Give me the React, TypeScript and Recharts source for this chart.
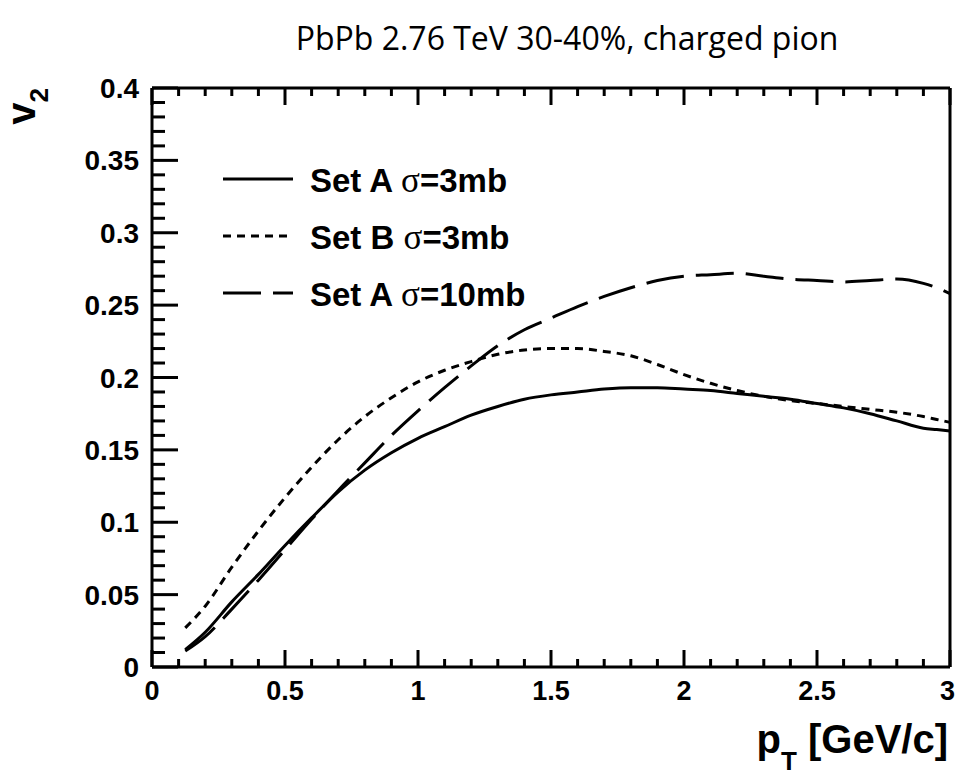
import React from 'react';
import { LineChart, Line, XAxis, YAxis } from 'recharts';

const W = 956;
const H = 777;

// transverse momentum (GeV/c)
const pt = [0.125, 0.2, 0.3, 0.4, 0.5, 0.6, 0.7, 0.8, 0.9, 1.0, 1.1, 1.2, 1.3, 1.4, 1.5, 1.6, 1.7, 1.8, 1.9, 2.0, 2.1, 2.2, 2.3, 2.4, 2.5, 2.6, 2.7, 2.8, 2.9, 2.95, 3.0];
// Set A sigma=3mb
const setA3 = [0.012, 0.024, 0.045, 0.064, 0.084, 0.103, 0.121, 0.136, 0.148, 0.158, 0.166, 0.174, 0.180, 0.185, 0.188, 0.190, 0.192, 0.193, 0.193, 0.192, 0.191, 0.189, 0.187, 0.185, 0.182, 0.179, 0.175, 0.170, 0.165, 0.164, 0.163];
// Set B sigma=3mb
const setB3 = [0.027, 0.042, 0.069, 0.094, 0.117, 0.138, 0.157, 0.173, 0.186, 0.197, 0.205, 0.211, 0.216, 0.219, 0.220, 0.220, 0.218, 0.215, 0.209, 0.202, 0.196, 0.191, 0.187, 0.184, 0.182, 0.180, 0.178, 0.176, 0.173, 0.171, 0.169];
// Set A sigma=10mb
const setA10 = [0.011, 0.021, 0.040, 0.060, 0.081, 0.102, 0.122, 0.141, 0.160, 0.177, 0.193, 0.208, 0.222, 0.233, 0.241, 0.249, 0.256, 0.262, 0.267, 0.270, 0.271, 0.272, 0.270, 0.268, 0.267, 0.266, 0.267, 0.268, 0.265, 0.262, 0.258];

const xMajorTicks = [0, 0.5, 1, 1.5, 2, 2.5, 3];
const xTickLabels = ['0', '0.5', '1', '1.5', '2', '2.5', '3'];
const xAllTicks = [0, 0.1, 0.2, 0.3, 0.4, 0.5, 0.6, 0.7, 0.8, 0.9, 1, 1.1, 1.2, 1.3, 1.4, 1.5, 1.6, 1.7, 1.8, 1.9, 2, 2.1, 2.2, 2.3, 2.4, 2.5, 2.6, 2.7, 2.8, 2.9, 3];
const yMajorTicks = [0, 0.05, 0.1, 0.15, 0.2, 0.25, 0.3, 0.35, 0.4];
const yTickLabels = ['0', '0.05', '0.1', '0.15', '0.2', '0.25', '0.3', '0.35', '0.4'];
const yAllTicks = [0, 0.01, 0.02, 0.03, 0.04, 0.05, 0.06, 0.07, 0.08, 0.09, 0.1, 0.11, 0.12, 0.13, 0.14, 0.15, 0.16, 0.17, 0.18, 0.19, 0.2, 0.21, 0.22, 0.23, 0.24, 0.25, 0.26, 0.27, 0.28, 0.29, 0.3, 0.31, 0.32, 0.33, 0.34, 0.35, 0.36, 0.37, 0.38, 0.39, 0.4];

const seriesNames = ['Set A', 'Set B', 'Set A'];
const seriesSigma = ['=3mb', '=3mb', '=10mb'];
const seriesDash = ['', '8 6', '38 12'];

const data = pt.map((x, i) => ({ pt: x, a3: setA3[i], b3: setB3[i], a10: setA10[i] }));

const FONT = '"Liberation Sans", Arial, Helvetica, sans-serif';

const xIndex = (v: number) => xMajorTicks.findIndex((m) => Math.abs(m - v) < 1e-6);
const yIndex = (v: number) => yMajorTicks.findIndex((m) => Math.abs(m - v) < 1e-6);

const XTickBottom = (props: any) => {
  const { x, y, payload } = props;
  const idx = xIndex(payload.value);
  const major = idx >= 0;
  const last = idx === xMajorTicks.length - 1;
  return (
    <g>
      <line x1={x} x2={x} y1={y} y2={y - (major ? 17 : 8)} stroke="#000" strokeWidth={3} />
      {major && (
        <text x={last ? W - 1 : x} y={y + 33} textAnchor={last ? 'end' : 'middle'} fontSize={27} fontWeight="bold" fontFamily={FONT} fill="#000">
          {xTickLabels[idx]}
        </text>
      )}
    </g>
  );
};

const XTickTop = (props: any) => {
  const { x, y, payload } = props;
  const major = xIndex(payload.value) >= 0;
  return <line x1={x} x2={x} y1={y} y2={y + (major ? 17 : 8)} stroke="#000" strokeWidth={3} />;
};

const YTickLeft = (props: any) => {
  const { x, y, payload } = props;
  const idx = yIndex(payload.value);
  const major = idx >= 0;
  return (
    <g>
      <line x1={x} x2={x + (major ? 26 : 13)} y1={y} y2={y} stroke="#000" strokeWidth={3} />
      {major && (
        <text x={x - 13} y={y + 10} textAnchor="end" fontSize={28} fontWeight="bold" fontFamily={FONT} fill="#000">
          {yTickLabels[idx]}
        </text>
      )}
    </g>
  );
};

const YTickRight = (props: any) => {
  const { x, y, payload } = props;
  const major = yIndex(payload.value) >= 0;
  return <line x1={x} x2={x - (major ? 25 : 12)} y1={y} y2={y} stroke="#000" strokeWidth={3} />;
};

const axisLine = { stroke: '#000', strokeWidth: 3 };

export default function App() {
  return (
    <div style={{ position: 'absolute', left: 0, top: 0, width: W, height: H, background: '#fff' }}>
      <LineChart width={W} height={H} data={data} margin={{ top: 87, right: 5, bottom: 109, left: 151 }}>
        <XAxis xAxisId="b" dataKey="pt" type="number" domain={[0, 3]} ticks={xAllTicks} interval={0}
          orientation="bottom" height={1} tickSize={0} tickMargin={0} tickLine={false} axisLine={axisLine} tick={XTickBottom} />
        <XAxis xAxisId="t" dataKey="pt" type="number" domain={[0, 3]} ticks={xAllTicks} interval={0}
          orientation="top" height={1} tickSize={0} tickMargin={0} tickLine={false} axisLine={axisLine} tick={XTickTop} />
        <YAxis yAxisId="l" type="number" domain={[0, 0.4]} ticks={yAllTicks} interval={0}
          orientation="left" width={1} tickSize={0} tickMargin={0} tickLine={false} axisLine={axisLine} tick={YTickLeft} />
        <YAxis yAxisId="r" type="number" domain={[0, 0.4]} ticks={yAllTicks} interval={0}
          orientation="right" width={1} tickSize={0} tickMargin={0} tickLine={false} axisLine={axisLine} tick={YTickRight} />
        <Line xAxisId="b" yAxisId="l" type="monotone" dataKey="a3" stroke="#000" strokeWidth={3} dot={false} isAnimationActive={false} />
        <Line xAxisId="b" yAxisId="l" type="monotone" dataKey="b3" stroke="#000" strokeWidth={3} strokeDasharray={seriesDash[1]} dot={false} isAnimationActive={false} />
        <Line xAxisId="b" yAxisId="l" type="monotone" dataKey="a10" stroke="#000" strokeWidth={3} strokeDasharray={seriesDash[2]} dot={false} isAnimationActive={false} />
      </LineChart>
      <svg width={W} height={H} style={{ position: 'absolute', left: 0, top: 0, pointerEvents: 'none' }}>
        <text x={567} y={50} textAnchor="middle" fontSize={32} fontFamily='"Open Sans", "Noto Sans", sans-serif' fill="#000">
          PbPb 2.76 TeV 30-40%, charged pion
        </text>
        <text transform="translate(35, 88) rotate(-90)" textAnchor="end" fontSize={40} fontWeight="bold" fontFamily={FONT} fill="#000">
          v<tspan fontSize={26} dy={13}>2</tspan>
        </text>
        <text x={948} y={753} textAnchor="end" fontSize={40} fontWeight="bold" fontFamily={FONT} fill="#000">
          p<tspan fontSize={26} dy={17}>T</tspan><tspan dy={-17}> [GeV/c]</tspan>
        </text>
        {seriesNames.map((name, i) => {
          const ly = 179 + i * 57;
          return (
            <g key={i}>
              <line x1={223} x2={293} y1={ly} y2={ly} stroke="#000" strokeWidth={3} strokeDasharray={seriesDash[i] || undefined} />
              <text x={310} y={ly + 13} fontSize={33} fontWeight="bold" fontFamily={FONT} fill="#000">
                {name}{' '}
                <tspan fontWeight="normal" fontSize={35} fontFamily='"Liberation Serif", "DejaVu Serif", serif'>σ</tspan>
                <tspan>{seriesSigma[i]}</tspan>
              </text>
            </g>
          );
        })}
      </svg>
    </div>
  );
}
